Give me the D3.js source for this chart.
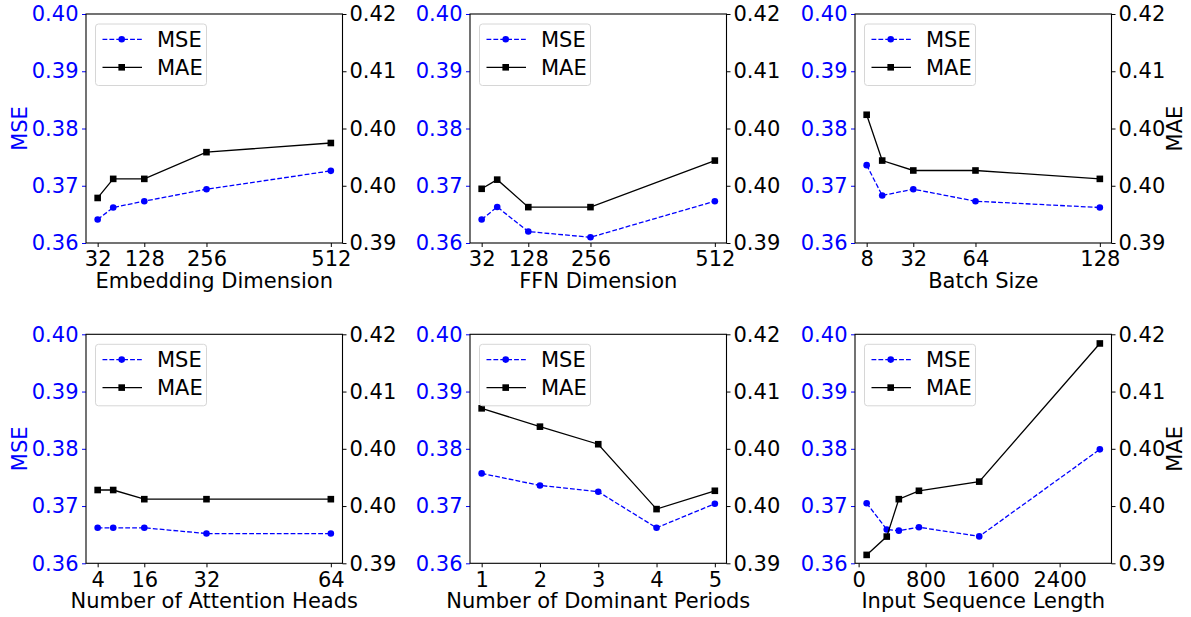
<!DOCTYPE html>
<html>
<head>
<meta charset="utf-8">
<script src="https://cdn.jsdelivr.net/npm/d3@7"></script>
<style>
  body { margin: 0; background: #fff; }
  svg { display: block; font-family: "DejaVu Sans", sans-serif; }
</style>
</head>
<body>
<script>
const WIDTH = 1191;
const HEIGHT = 617;
const PLOT_W = 256.5;
const PLOT_H = 229;
const COL_X = [86, 470, 855];
const ROW_Y = [14, 334.3];
const FONT = 21;

// data
const embedDims = [32, 64, 128, 256, 512];
const embedMSE = [0.3641, 0.3662, 0.3673, 0.3694, 0.3726];
const embedMAE = [0.3959, 0.3984, 0.3984, 0.4019, 0.4031];
const embedTicks = [32, 128, 256, 512];

const ffnDims = [32, 64, 128, 256, 512];
const ffnMSE = [0.3641, 0.3663, 0.3620, 0.3610, 0.3673];
const ffnMAE = [0.3971, 0.3983, 0.3947, 0.3947, 0.4008];
const ffnTicks = [32, 128, 256, 512];

const batchSizes = [8, 16, 32, 64, 128];
const batchMSE = [0.3736, 0.3683, 0.3694, 0.3673, 0.3662];
const batchMAE = [0.4068, 0.4008, 0.3995, 0.3995, 0.3984];
const batchTicks = [8, 32, 64, 128];

const headCounts = [4, 8, 16, 32, 64];
const headMSE = [0.3662, 0.3662, 0.3662, 0.3652, 0.3652];
const headMAE = [0.3996, 0.3996, 0.3984, 0.3984, 0.3984];
const headTicks = [4, 16, 32, 64];

const periodCounts = [1, 2, 3, 4, 5];
const periodMSE = [0.3757, 0.3736, 0.3725, 0.3662, 0.3704];
const periodMAE = [0.4103, 0.4079, 0.4056, 0.3971, 0.3995];
const periodTicks = [1, 2, 3, 4, 5];

const seqLens = [96, 336, 480, 720, 1440, 2880];
const seqMSE = [0.3705, 0.3659, 0.3657, 0.3663, 0.3647, 0.3799];
const seqMAE = [0.3911, 0.3935, 0.3984, 0.3995, 0.4007, 0.4188];
const seqTicks = [0, 800, 1600, 2400];

const mseDomain = [0.36, 0.40];
const mseTicks = [0.36, 0.37, 0.38, 0.39, 0.40];
const maeDomain = [0.39, 0.42];
const maeTicks = [0.39, 0.3975, 0.405, 0.4125, 0.42];
const maeTickLabels = ['0.39', '0.40', '0.40', '0.41', '0.42'];

const panels = [
  {x: embedDims, mse: embedMSE, mae: embedMAE, ticks: embedTicks, label: 'Embedding Dimension', left: true, right: false},
  {x: ffnDims, mse: ffnMSE, mae: ffnMAE, ticks: ffnTicks, label: 'FFN Dimension', left: false, right: false},
  {x: batchSizes, mse: batchMSE, mae: batchMAE, ticks: batchTicks, label: 'Batch Size', left: false, right: true},
  {x: headCounts, mse: headMSE, mae: headMAE, ticks: headTicks, label: 'Number of Attention Heads', left: true, right: false},
  {x: periodCounts, mse: periodMSE, mae: periodMAE, ticks: periodTicks, label: 'Number of Dominant Periods', left: false, right: false},
  {x: seqLens, mse: seqMSE, mae: seqMAE, ticks: seqTicks, label: 'Input Sequence Length', left: false, right: true}
];

const svg = d3.select('body').append('svg')
  .attr('width', WIDTH)
  .attr('height', HEIGHT);

var drawPanel = function(p, i){
  const ox = COL_X[i % 3];
  const oy = ROW_Y[Math.floor(i / 3)];
  const g = svg.append('g').attr('transform', 'translate(' + ox + ',' + oy + ')');

  const ext = d3.extent(p.x);
  const pad = (ext[1] - ext[0]) * 0.05;
  const xScale = d3.scaleLinear().domain([ext[0] - pad, ext[1] + pad]).range([0, PLOT_W]);
  const yMse = d3.scaleLinear().domain(mseDomain).range([PLOT_H, 0]);
  const yMae = d3.scaleLinear().domain(maeDomain).range([PLOT_H, 0]);

  // axes
  const xAxis = g.append('g')
    .attr('transform', 'translate(0,' + PLOT_H + ')')
    .call(d3.axisBottom(xScale).tickValues(p.ticks).tickSize(4).tickPadding(4.5).tickFormat(d3.format('d')));
  const lAxis = g.append('g')
    .call(d3.axisLeft(yMse).tickValues(mseTicks).tickSize(4).tickPadding(3.5).tickFormat(d3.format('.2f')));
  const rAxis = g.append('g')
    .attr('transform', 'translate(' + PLOT_W + ',0)')
    .call(d3.axisRight(yMae).tickValues(maeTicks).tickSize(4).tickPadding(3)
      .tickFormat(function(d, j){ return maeTickLabels[j]; }));

  [xAxis, lAxis, rAxis].forEach(function(a){
    a.selectAll('.domain').remove();
    a.selectAll('text').style('font-size', FONT + 'px').style('font-family', '"DejaVu Sans", sans-serif');
    a.selectAll('line').attr('stroke-width', 1);
  });
  xAxis.selectAll('text').attr('fill', '#000');
  rAxis.selectAll('text').attr('fill', '#000');
  lAxis.selectAll('text').attr('fill', '#0000ff');
  lAxis.selectAll('line').attr('stroke', '#0000ff');

  // frame
  g.append('rect')
    .attr('width', PLOT_W).attr('height', PLOT_H)
    .attr('fill', 'none').attr('stroke', '#000').attr('stroke-width', 1.1);

  const pts = p.x.map(function(d, j){ return {x: d, mse: p.mse[j], mae: p.mae[j]}; });

  g.append('path')
    .datum(pts)
    .attr('fill', 'none').attr('stroke', '#0000ff').attr('stroke-width', 1.3)
    .attr('stroke-dasharray', '4.8,2.1')
    .attr('d', d3.line().x(function(d){ return xScale(d.x); }).y(function(d){ return yMse(d.mse); }));
  g.selectAll('.mse-dot').data(pts).enter().append('circle')
    .attr('class', 'mse-dot')
    .attr('cx', function(d){ return xScale(d.x); })
    .attr('cy', function(d){ return yMse(d.mse); })
    .attr('r', 3.3).attr('fill', '#0000ff');

  g.append('path')
    .datum(pts)
    .attr('fill', 'none').attr('stroke', '#000').attr('stroke-width', 1.3)
    .attr('d', d3.line().x(function(d){ return xScale(d.x); }).y(function(d){ return yMae(d.mae); }));
  g.selectAll('.mae-dot').data(pts).enter().append('rect')
    .attr('class', 'mae-dot')
    .attr('x', function(d){ return xScale(d.x) - 3.3; })
    .attr('y', function(d){ return yMae(d.mae) - 3.3; })
    .attr('width', 6.6).attr('height', 6.6).attr('fill', '#000');

  // legend
  const lg = g.append('g').attr('transform', 'translate(9.5,10)');
  lg.append('rect')
    .attr('width', 111).attr('height', 61.5).attr('rx', 3)
    .attr('fill', '#fff').attr('stroke', '#d6d6d6').attr('stroke-width', 1);
  const rows = [
    {name: 'MSE', y: 15.3, color: '#0000ff', dash: '4.8,2.1', mark: 'circle'},
    {name: 'MAE', y: 43.3, color: '#000', dash: null, mark: 'square'}
  ];
  rows.forEach(function(r){
    lg.append('line')
      .attr('x1', 7).attr('x2', 46.5).attr('y1', r.y).attr('y2', r.y)
      .attr('stroke', r.color).attr('stroke-width', 1.3)
      .attr('stroke-dasharray', r.dash);
    if (r.mark === 'circle') {
      lg.append('circle').attr('cx', 26.2).attr('cy', r.y).attr('r', 3.3).attr('fill', r.color);
    } else {
      lg.append('rect').attr('x', 26.2 - 3.3).attr('y', r.y - 3.3).attr('width', 6.6).attr('height', 6.6).attr('fill', r.color);
    }
    lg.append('text')
      .attr('x', 61.5).attr('y', r.y + 7.5)
      .style('font-size', FONT + 'px')
      .attr('fill', '#000')
      .text(r.name);
  });

  // x label
  g.append('text')
    .attr('x', PLOT_W / 2).attr('y', PLOT_H + 45)
    .attr('text-anchor', 'middle')
    .style('font-size', FONT + 'px')
    .attr('fill', '#000')
    .text(p.label);

  if (p.left) {
    g.append('text')
      .attr('transform', 'translate(' + (19.5 - ox + 7.5) + ',' + (PLOT_H / 2) + ') rotate(-90)')
      .attr('text-anchor', 'middle')
      .style('font-size', FONT + 'px')
      .attr('fill', '#0000ff')
      .text('MSE');
  }
  if (p.right) {
    g.append('text')
      .attr('transform', 'translate(' + (PLOT_W + 70) + ',' + (PLOT_H / 2) + ') rotate(-90)')
      .attr('text-anchor', 'middle')
      .style('font-size', FONT + 'px')
      .attr('fill', '#000')
      .text('MAE');
  }
};

panels.forEach(drawPanel);
</script>
</body>
</html>
